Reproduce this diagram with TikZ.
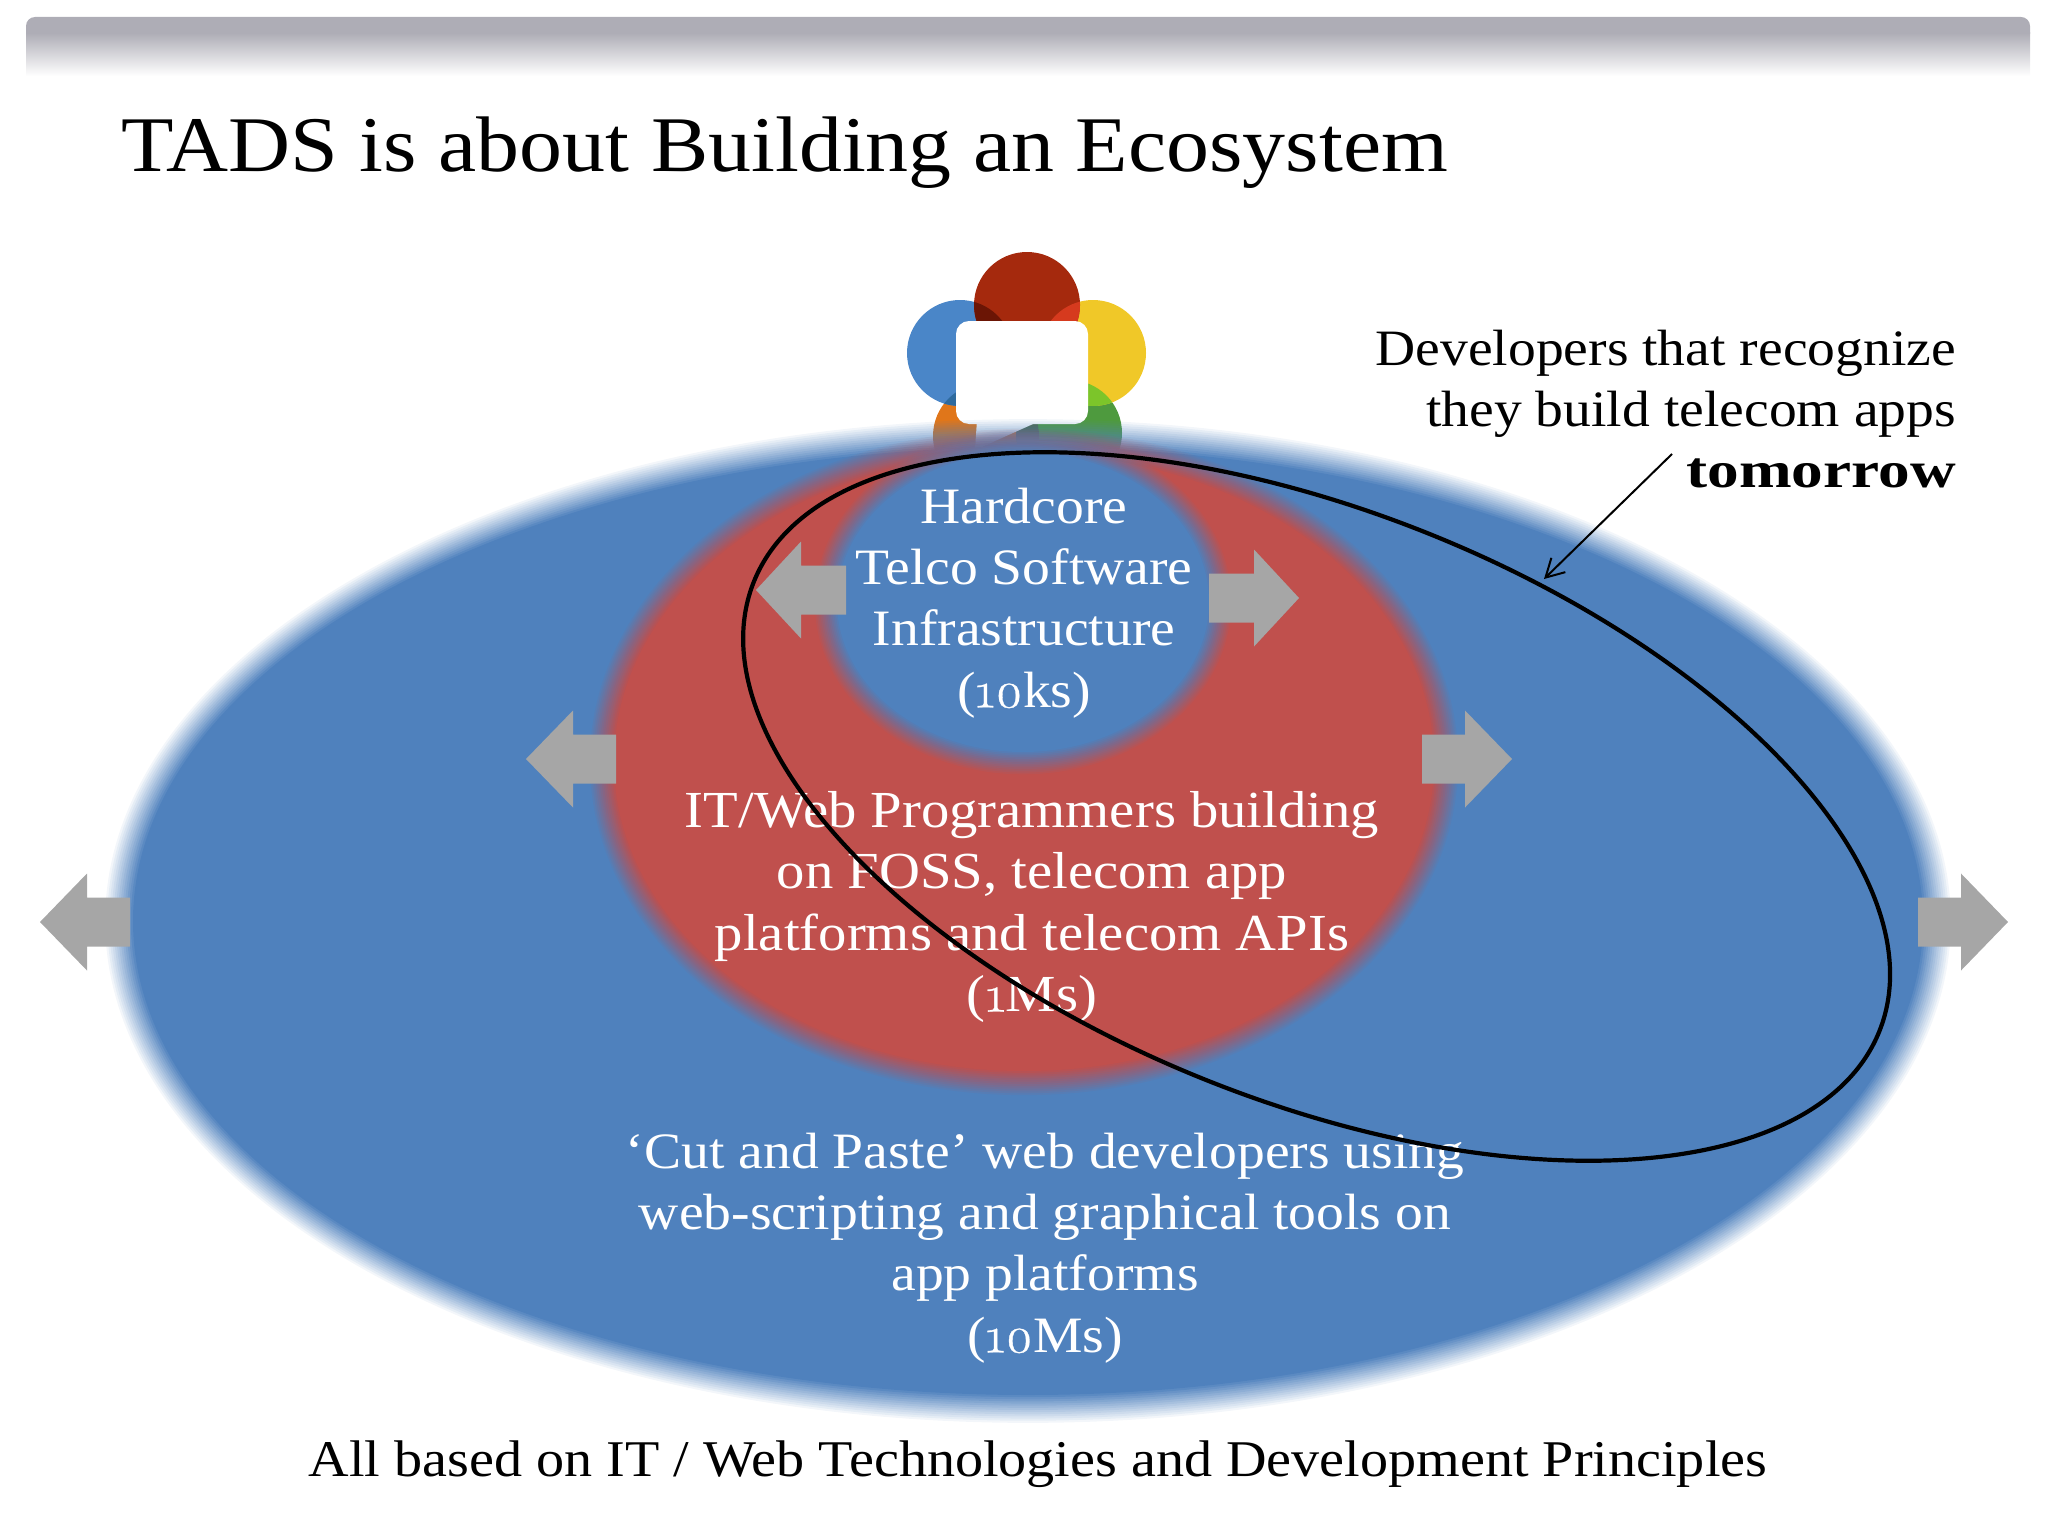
\documentclass[tikz,border=0pt]{standalone}
\usepackage{fontspec}
\setmainfont{Liberation Serif}
\newfontfamily\geo[FakeStretch=1.09]{Liberation Serif}
\newfontfamily\geob[FakeStretch=1.24]{Liberation Serif Bold}
\newfontfamily\oldnum[Numbers=OldStyle,FakeStretch=1.05,FakeBold=0.6]{Latin Modern Roman}
\usetikzlibrary{arrows.meta}
\definecolor{ecoblue}{HTML}{4F81BD}
\definecolor{ecored}{HTML}{C0504D}
\definecolor{greyarrow}{HTML}{A6A6A6}
\definecolor{barg}{HTML}{AEADB6}
\definecolor{lgred}{HTML}{A5290D}
\definecolor{lgblue}{HTML}{4A86C8}
\definecolor{lgyellow}{HTML}{F0C828}
\definecolor{lgorange}{HTML}{E0761A}
\definecolor{lggreen}{HTML}{4E9A3E}
\definecolor{lgrb}{HTML}{6B1505}
\definecolor{lgry}{HTML}{D63A1E}
\definecolor{lgbo}{HTML}{2E6A9E}
\definecolor{lgyg}{HTML}{7CC52A}
\definecolor{lgog}{HTML}{4F6A4A}
\newcommand{\blurell}[6]{% cx cy a b colour width
  \foreach \k in {1,...,14}{
    \pgfmathsetmacro{\ra}{#3+#6/2-\k*#6/14}
    \pgfmathsetmacro{\rb}{#4+#6/2-\k*#6/14}
    \pgfmathsetmacro{\op}{1/(15-\k)}
    \fill[#5,opacity=\op] (#1,#2) ellipse[x radius=\ra pt,y radius=\rb pt];
  }}
\newcommand{\leftarr}[4]{% tip x, base x, end x, y
  \fill[greyarrow] (#1,#4) -- (#2,#4-48.5) -- (#2,#4-24.5) -- (#3,#4-24.5) -- (#3,#4+24.5) -- (#2,#4+24.5) -- (#2,#4+48.5) -- cycle;}
\tikzset{
  x=1pt,y=-1pt,
  bodytext/.style={text=white,align=center,font=\fontsize{51}{61.4}\selectfont\geo,inner sep=0pt},
  darktext/.style={text=black,font=\fontsize{51}{61.4}\selectfont\geo,inner sep=0pt},
}
\begin{document}
\begin{tikzpicture}
\useasboundingbox (0,0) rectangle (2048,1536);
% top bar
\shade[top color=barg,bottom color=white] (26,33) rectangle (2030,76);
\fill[barg] (26,34) -- (26,26) arc[start angle=180,end angle=90,radius=9pt] -- (2021,17) arc[start angle=90,end angle=0,radius=9pt] -- (2030,34) -- cycle;
% logo
\def\Cr{(1027,305) circle[radius=53pt]}
\def\Cb{(960,353) circle[radius=53pt]}
\def\Cy{(1093,353) circle[radius=53pt]}
\def\Co{(986,436) circle[radius=53pt]}
\def\Cg{(1069,433) circle[radius=53pt]}
\fill[lgorange] \Co;
\fill[lggreen] \Cg;
\fill[lgblue] \Cb;
\fill[lgyellow] \Cy;
\fill[lgred] \Cr;
\begin{scope}\clip \Cr; \fill[lgrb] \Cb; \fill[lgry] \Cy; \end{scope}
\begin{scope}\clip \Cb; \fill[lgbo] \Co; \end{scope}
\begin{scope}\clip \Cy; \fill[lgyg] \Cg; \end{scope}
\begin{scope}\clip \Co; \fill[lgog] \Cg; \end{scope}
\fill[white] (977,420) -- (975,450) -- (1042,420) -- cycle;
\fill[white,rounded corners=13pt] (956,321) rectangle (1088,424);
% ellipses
\blurell{1028}{921}{910}{489}{ecoblue}{30}
\blurell{1024}{762}{423}{322}{ecored}{26}
\blurell{1023}{602}{198}{162}{ecoblue}{24}
% grey arrows
\leftarr{40}{87}{130}{922}
\leftarr{2008}{1961}{1918}{922}
\leftarr{526}{573}{616}{759}
\leftarr{1512}{1465}{1422}{759}
\leftarr{756}{801}{846}{590}
\leftarr{1299}{1254}{1209}{598}
% texts
\node[text=black,anchor=west,inner sep=0pt,font=\fontsize{78.8}{90}\selectfont\geo] (title) at (121,153) {TADS is about Building an Ecosystem};
\node[bodytext] (core) at (1024,603) {Hardcore\\Telco Software\\Infrastructure\\({\oldnum 10}ks)};
\node[bodytext,font=\fontsize{52}{61.4}\selectfont\geo] (itweb) at (1032,907) {IT/Web Programmers building\\on FOSS, telecom app\\platforms and telecom APIs\\({\oldnum 1}Ms)};
\node[bodytext] (cutpaste) at (1045,1248) {‘Cut and Paste’ web developers using\\web-scripting and graphical tools on\\app platforms\\({\oldnum 10}Ms)};
\node[darktext,align=right,anchor=east] (note) at (1956,409) {Developers that recognize\\they build telecom apps\\{\geob tomorrow}};
\node[darktext,align=center,font=\fontsize{51.5}{61.4}\selectfont\geo] (basis) at (1038,1464) {All based on IT / Web Technologies and Development Principles};
% callout arrow
\coordinate (calloutstart) at (1672,454);
\coordinate (callouttip) at (1544,579);
\draw[line width=2pt,-{Straight Barb[length=18pt,width=20pt]}] (calloutstart) -- (callouttip);
% big black ellipse
\draw[black,line width=4.2pt,shift={(1316.6,806.5)},rotate=-21.75] (0,0) ellipse[x radius=606pt,y radius=295pt];
\end{tikzpicture}
\end{document}
